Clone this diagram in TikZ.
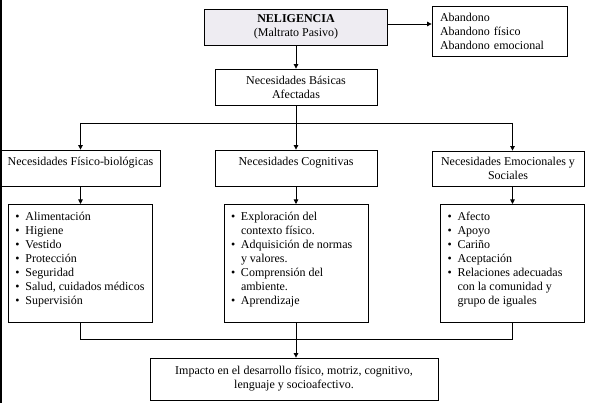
\documentclass[tikz,border=0pt]{standalone}
\usepackage{fontspec}
\setmainfont{Liberation Serif}
\usepackage{tikz}
\usetikzlibrary{positioning,arrows.meta,calc}
\usepackage{xcolor}
\definecolor{negfill}{RGB}{238,236,242}
\newcommand{\itm}{\makebox[10pt][l]{\textbullet}}
\newcommand{\cont}{\hspace*{10pt}}
\newcommand{\listtext}[1]{\parbox[c][118pt][t]{130pt}{\raggedright\rule{0pt}{16pt}#1}}

\begin{document}
\begin{tikzpicture}[
  x=1pt, y=-1pt,
  font=\fontsize{12}{14}\selectfont,
  line width=0.8pt,
  >={Triangle[length=4.5pt,width=4.5pt]},
  box/.style={
    rectangle, draw, inner sep=0pt, align=center
  },
  listbox/.style={
    rectangle, draw, inner xsep=7pt, inner ysep=0pt, anchor=north
  },
  link/.style={->}
]
\useasboundingbox (0,0) rectangle (597,403);
\draw[line width=1.6pt] (1,0) -- (1,403);

\node[box, fill=negfill, minimum width=183pt, minimum height=36pt] (neg) at (296,27) {\textbf{NELIGENCIA}\\(Maltrato Pasivo)};
\node[box, align=left, text width=119pt, inner xsep=8pt, minimum height=50pt] (aband) at (499.5,31) {Abandono\\Abandono físico\\Abandono emocional};
\node[box, minimum width=162pt, minimum height=36pt] (nb) at (296,87) {Necesidades Básicas\\Afectadas};
\coordinate (top bus) at (0,123);

\node[box, minimum width=159pt, minimum height=36pt] (fis) at (80.5,168) {Necesidades Físico-biológicas\\\mbox{}};
\node[box, minimum width=162pt, minimum height=36pt] (cog) at (296,168) {Necesidades Cognitivas\\\mbox{}};
\node[box, minimum width=152pt, minimum height=35pt] (emo) at (508,168.5) {Necesidades Emocionales y\\Sociales};

\node[listbox] (fisl) at (80.5,204) {\listtext{\itm Alimentación\\\itm Higiene\\\itm Vestido\\\itm Protección\\\itm Seguridad\\\itm Salud, cuidados médicos\\\itm Supervisión}};
\node[listbox] (cogl) at (296,204) {\listtext{\itm Exploración del\\\cont contexto físico.\\\itm Adquisición de normas\\\cont y valores.\\\itm Comprensión del\\\cont ambiente.\\\itm Aprendizaje}};
\node[listbox] (emol) at (512.5,204) {\listtext{\itm Afecto\\\itm Apoyo\\\itm Cariño\\\itm Aceptación\\\itm Relaciones adecuadas\\\cont con la comunidad y\\\cont grupo de iguales}};
\coordinate (low bus) at (0,339);

\node[box, minimum width=288pt, minimum height=42pt] (imp) at (294,379) {Impacto en el desarrollo físico, motriz, cognitivo,\\lenguaje y socioafectivo.};

\draw[link] ([yshift=3pt]neg.east) -- ([yshift=3pt]neg.east -| aband.west);
\draw[link] (neg) -- (nb);
\draw (nb.south) -- (nb.south |- top bus);
\draw (fisl.north |- top bus) -- (emol.north |- top bus);
\draw[link] (fisl.north |- top bus) -- (fis.north);
\draw[link] (cog.north |- top bus) -- (cog.north);
\draw[link] (emol.north |- top bus) -- (emol.north |- emo.north);
\draw[link] (fis) -- (fisl);
\draw[link] (cog) -- (cogl);
\draw[link] (emol.north |- emo.south) -- (emol.north);
\draw (fisl.south) -- (fisl.south |- low bus) -- (emol.south |- low bus) -- (emol.south);
\draw[link] (cogl.south) -- (cogl.south |- imp.north);
\end{tikzpicture}
\end{document}
